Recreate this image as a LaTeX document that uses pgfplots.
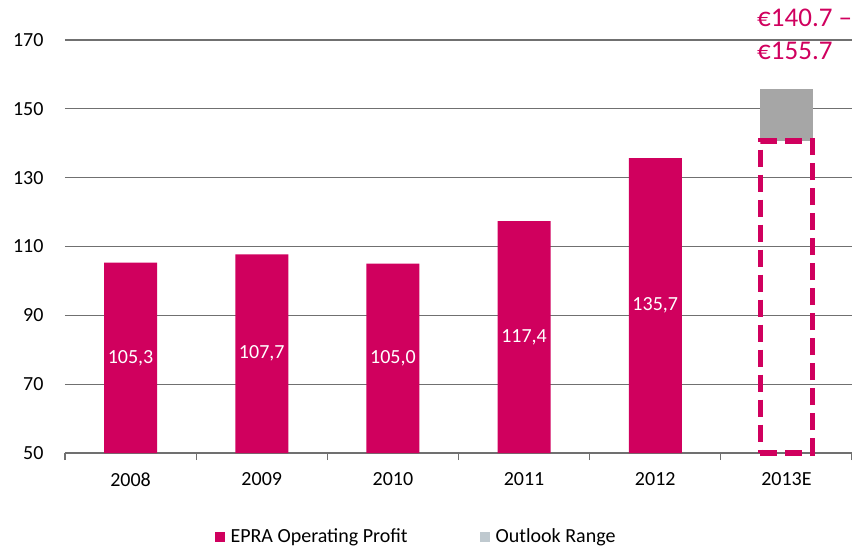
\documentclass[border=0pt]{standalone}
\usepackage{fontspec}
\setmainfont{Carlito}
\usepackage{pgfplots}
\pgfplotsset{compat=1.18}
\definecolor{mag}{HTML}{D0005E}
\definecolor{rng}{HTML}{A6A6A6}
\definecolor{leggrey}{HTML}{BFC9CF}
\definecolor{gridc}{HTML}{707070}
\begin{document}
\begin{tikzpicture}
\begin{axis}[name=ax, scale only axis, width=787bp, height=413bp,
  clip=false,
  xmin=-0.5, xmax=5.5, ymin=50, ymax=170,
  ytick={50,70,...,170}, ymajorgrids,
  major grid style={draw=gridc, line width=1.3bp},
  xtick={0,...,5}, xticklabels={2008,2009,2010,2011,2012,2013E},
  minor xtick={-0.5,0.5,1.5,2.5,3.5,4.5,5.5},
  major tick length=0pt, minor tick length=7bp, tick align=outside,
  major x tick style={draw=none}, ytick style={draw=none},
  minor x tick style={draw=gridc, line width=1.1bp},
  axis x line*=bottom, axis y line*=left,
  x axis line style={draw=gridc, line width=1.3bp, -},
  y axis line style={draw=none},
  tick label style={font=\fontsize{20bp}{24bp}\selectfont},
  /pgf/number format/assume math mode=true,
  yticklabel style={xshift=-18bp},
  xticklabel style={yshift=-16bp},
  legend columns=2,
  legend style={draw=none, fill=none, at={(0.446,-0.201)}, anchor=center,
    font=\fontsize{20bp}{24bp}\selectfont,
    /tikz/every even column/.append style={column sep=70bp}},
  legend cell align=left,
]
\addplot[ybar, bar width=53bp, bar shift=0pt, fill=mag, draw=none, forget plot]
  coordinates {(0,105.3) (1,107.7) (2,105.0) (3,117.4) (4,135.7)};
\addplot[fill=rng, draw=none, forget plot]
  coordinates {(4.798,140.7) (5.202,140.7) (5.202,155.7) (4.798,155.7)} -- cycle;
\addplot[ybar, bar width=52bp, bar shift=0pt, fill=none, draw=mag, line width=5.5bp,
  dash pattern=on 17bp off 8bp, forget plot]
  coordinates {(5,140.7)};
\addplot[draw=none, mark=none, forget plot, nodes near coords, point meta=explicit symbolic,
  nodes near coords style={anchor=center, text=white, font=\fontsize{20bp}{24bp}\selectfont}]
  table[x=x, y=y, meta=lab, row sep=\\] {
  x y lab\\
  0 77.65 105,3\\
  1 78.85 107,7\\
  2 77.5 105,0\\
  3 83.7 117,4\\
  4 92.85 135,7\\
  };
\addlegendimage{legend image code/.code={\fill[mag, draw=none] (0bp,-6bp) rectangle (10bp,4bp); \path[draw=none, fill=none] (0bp,-1bp) rectangle (14bp,0bp);}}
\addlegendentry{EPRA Operating Profit}
\addlegendimage{legend image code/.code={\fill[leggrey, draw=none] (0bp,-6bp) rectangle (10bp,4bp); \path[draw=none, fill=none] (0bp,-1bp) rectangle (14bp,0bp);}}
\addlegendentry{Outlook Range}
\node[anchor=base west, inner sep=0pt, text=mag, font=\fontsize{27bp}{31bp}\selectfont]
  at (axis cs:4.776,173.78) {€140.7 –};
\node[anchor=base west, inner sep=0pt, text=mag, font=\fontsize{27bp}{31bp}\selectfont]
  at (axis cs:4.776,164.2) {€155.7};
\end{axis}
\pgfresetboundingbox
\path[use as bounding box] ([xshift=-65bp,yshift=-94bp]ax.south west) rectangle ([yshift=40bp]ax.north east);
\end{tikzpicture}
\end{document}
